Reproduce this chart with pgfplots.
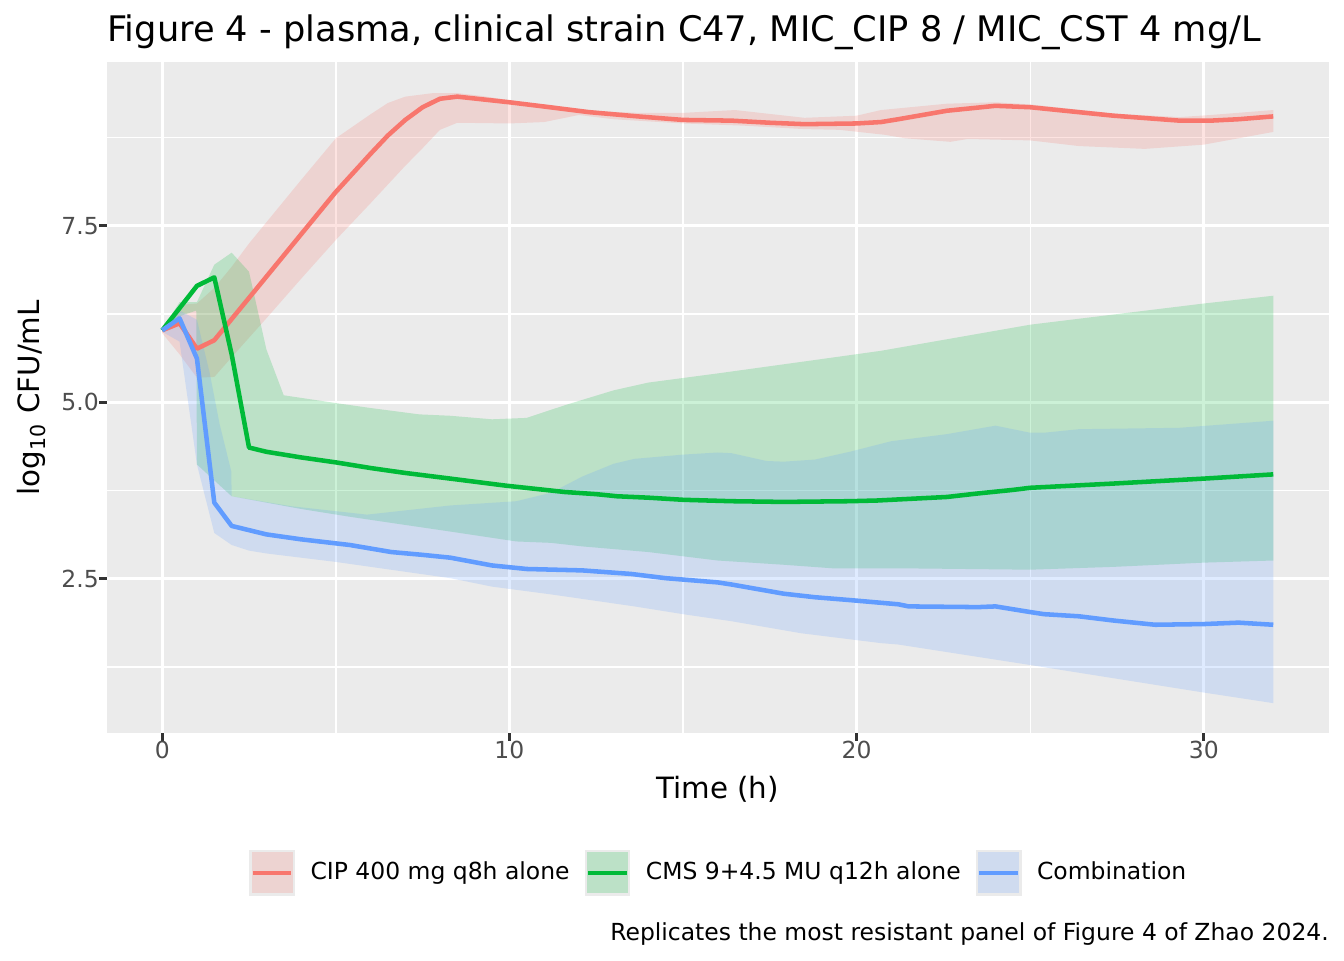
\documentclass[border=0pt]{standalone}
\usepackage{fontspec}
\setmainfont{DejaVu Sans}
\usepackage{pgfplots}
\pgfplotsset{compat=1.18}
\usepackage{pgfplotstable}
\usepgfplotslibrary{fillbetween}

\definecolor{cipc}{HTML}{F8766D}
\definecolor{cmsc}{HTML}{00BA38}
\definecolor{comc}{HTML}{619CFF}
\definecolor{ggbg}{HTML}{EBEBEB}
\definecolor{gg30}{HTML}{4D4D4D}
\definecolor{gg20}{HTML}{333333}

% CIP 400 mg q8h alone
\pgfplotstableread{
t y
0 6.02
0.5 6.12
1.0 5.76
1.5 5.88
2.0 6.18
2.5 6.48
3.0 6.78
4.0 7.38
5.0 7.98
6.0 8.52
6.5 8.78
7.0 9.00
7.5 9.18
8.0 9.30
8.5 9.33
10.0 9.25
11.0 9.19
12.3 9.11
13.7 9.05
15.0 9.00
16.4 8.99
17.5 8.96
18.5 8.94
20.0 8.95
20.7 8.97
21.2 9.01
22.6 9.13
24.0 9.20
25.0 9.18
27.4 9.06
29.3 8.99
30.2 8.99
31.0 9.01
32.0 9.05
}\cipline
\pgfplotstableread{
t y
0 6.05
0.5 6.38
1.0 6.40
1.5 6.62
2.0 6.92
2.5 7.25
3.0 7.55
4.0 8.15
5.0 8.74
6.0 9.08
6.5 9.24
7.0 9.33
7.8 9.38
8.5 9.38
9.2 9.34
10.0 9.28
11.0 9.20
12.3 9.13
13.7 9.10
15.0 9.10
16.5 9.14
18.5 9.03
20.0 9.06
20.7 9.14
22.6 9.23
24.0 9.25
25.0 9.22
27.4 9.09
29.3 9.04
30.2 9.07
32.0 9.14
}\cipup
\pgfplotstableread{
t y
0 5.98
0.5 5.68
1.0 5.35
1.5 5.36
2.0 5.64
3.0 6.19
4.0 6.75
5.0 7.30
6.0 7.82
7.0 8.35
7.5 8.60
8.0 8.86
8.5 8.96
10.0 8.95
11.0 8.97
12.0 9.07
13.0 9.01
15.0 8.95
16.7 8.92
18.5 8.87
19.5 8.86
20.8 8.79
21.4 8.74
22.7 8.69
23.2 8.73
25.0 8.71
26.4 8.63
28.3 8.59
30.0 8.65
32.0 8.83
}\ciplo

% CMS 9+4.5 MU q12h alone
\pgfplotstableread{
t y
0 6.02
1.0 6.65
1.5 6.77
2.0 5.68
2.5 4.36
3.0 4.30
4.0 4.22
5.0 4.15
6.0 4.07
7.0 4.00
8.3 3.92
9.9 3.82
11.6 3.73
12.5 3.70
13.1 3.67
14.0 3.65
15.0 3.62
16.4 3.60
17.9 3.59
19.8 3.60
20.6 3.61
22.6 3.66
23.5 3.71
24.5 3.76
25.0 3.79
27.4 3.85
30.0 3.92
32.0 3.98
}\cmsline
\pgfplotstableread{
t y
0 6.03
0.5 6.42
1.0 6.42
1.5 6.95
2.0 7.12
2.5 6.85
3.0 5.75
3.5 5.10
5.0 4.99
6.0 4.92
7.4 4.83
8.3 4.81
9.5 4.76
10.5 4.78
11.6 4.96
13.0 5.17
14.0 5.28
16.0 5.41
18.8 5.60
20.7 5.73
25.0 6.10
30.0 6.40
32.0 6.51
}\cmsup
\pgfplotstableread{
t y
0 6.00
0.5 6.22
0.98 6.30
1.0 4.12
2.0 3.67
3.0 3.58
4.0 3.49
5.4 3.38
6.5 3.30
8.3 3.17
10.2 3.03
11.2 3.01
12.1 2.96
14.0 2.88
16.0 2.76
17.9 2.70
19.3 2.65
21.2 2.65
25.0 2.63
27.4 2.67
30.0 2.73
32.0 2.76
}\cmslo

% Combination
\pgfplotstableread{
t y
0 6.02
0.5 6.19
1.0 5.62
1.5 3.58
2.0 3.25
3.0 3.13
4.0 3.06
5.4 2.98
6.6 2.88
7.5 2.84
8.3 2.80
9.5 2.69
10.5 2.64
12.1 2.62
13.5 2.57
14.5 2.51
16.0 2.45
16.4 2.42
17.9 2.29
18.8 2.24
19.8 2.20
21.2 2.14
21.5 2.11
23.5 2.10
24.0 2.11
25.0 2.03
25.4 2.00
26.4 1.97
27.4 1.91
28.6 1.85
30.0 1.86
31.0 1.88
32.0 1.85
}\comline
\pgfplotstableread{
t y
0 6.02
0.5 6.30
1.0 6.17
1.37 5.41
1.65 4.70
1.99 4.02
2.0 3.67
3.7 3.53
5.9 3.41
8.3 3.54
10.2 3.60
11.2 3.72
12.1 3.95
13.0 4.13
13.6 4.20
15.0 4.26
16.0 4.29
16.4 4.28
17.4 4.17
17.9 4.16
18.8 4.19
19.8 4.30
21.0 4.45
22.6 4.55
24.0 4.67
25.0 4.57
25.4 4.57
26.4 4.62
29.3 4.64
32.0 4.74
}\comup
\pgfplotstableread{
t y
0 6.00
0.5 5.86
1.0 4.12
1.5 3.15
2.0 2.98
2.5 2.90
3.0 2.86
5.0 2.74
8.3 2.51
9.5 2.39
11.2 2.28
13.6 2.11
15.0 2.00
16.4 1.90
18.4 1.73
20.7 1.59
21.2 1.57
25.0 1.28
30.0 0.89
32.0 0.74
}\comlo

\newcommand{\fsA}{\fontsize{8.8pt}{10.5pt}\selectfont}
\newcommand{\fsB}{\fontsize{11pt}{13.2pt}\selectfont}
\newcommand{\fsC}{\fontsize{13.2pt}{15.8pt}\selectfont}

\begin{document}
\begin{tikzpicture}
\path (0,0) rectangle (504pt,360pt);
\begin{axis}[
  at={(40.0pt,84.94pt)}, anchor=south west,
  scale only axis, width=458.3pt, height=251.8pt,
  xmin=-1.6, xmax=33.6, ymin=0.31, ymax=9.82,
  axis background/.style={fill=ggbg},
  axis line style={draw=none},
  xtick={0,10,20,30}, xticklabels={0,10,20,30},
  ytick={2.5,5,7.5}, yticklabels={2.5,5.0,7.5},
  minor xtick={5,15,25}, minor ytick={1.25,3.75,6.25,8.75},
  grid=both,
  major grid style={white, line width=1.07pt},
  minor grid style={white, line width=0.53pt},
  tick align=outside, xtick pos=bottom, ytick pos=left,
  major tick length=2.75pt, minor tick length=0pt,
  tick style={gg20, line width=1.07pt},
  xticklabel style={font=\fsA, text=gg30, inner sep=0pt, anchor=north},
  yticklabel style={font=\fsA, text=gg30, inner sep=0pt, anchor=east},
  /pgf/number format/assume math mode=true,
  legend style={at={(0.5,-0.2077)}, anchor=center, draw=none, fill=none,
    inner sep=0pt, font=\fsA, nodes={inner sep=0pt},
    /tikz/every odd column/.append style={column sep=5.8pt},
    /tikz/every even column/.append style={column sep=5.6pt}},
  legend columns=3, legend cell align=left,
]
% ribbons
\addplot[draw=none, name path=cipU, forget plot] table[x=t,y=y] {\cipup};
\addplot[draw=none, name path=cipL, forget plot] table[x=t,y=y] {\ciplo};
\addplot[fill=cipc, fill opacity=0.2, draw=none, forget plot] fill between[of=cipU and cipL];
\addplot[draw=none, name path=cmsU, forget plot] table[x=t,y=y] {\cmsup};
\addplot[draw=none, name path=cmsL, forget plot] table[x=t,y=y] {\cmslo};
\addplot[fill=cmsc, fill opacity=0.2, draw=none, forget plot] fill between[of=cmsU and cmsL];
\addplot[draw=none, name path=comU, forget plot] table[x=t,y=y] {\comup};
\addplot[draw=none, name path=comL, forget plot] table[x=t,y=y] {\comlo};
\addplot[fill=comc, fill opacity=0.2, draw=none, forget plot] fill between[of=comU and comL];
% lines
\addplot[cipc, line width=1.7pt, line join=round,
  legend image code/.code={
    \fill[ggbg, draw=none] (0pt,-8.6pt) rectangle (17.2pt,8.6pt);
    \fill[cipc, fill opacity=0.2, draw=none] (0.9pt,-7.7pt) rectangle (16.3pt,7.7pt);
    \draw[cipc, line width=1.7pt] (1.4pt,0pt) -- (15.8pt,0pt);}]
  table[x=t,y=y] {\cipline};
\addlegendentry{CIP 400 mg q8h alone}
\addplot[cmsc, line width=1.7pt, line join=round,
  legend image code/.code={
    \fill[ggbg, draw=none] (0pt,-8.6pt) rectangle (17.2pt,8.6pt);
    \fill[cmsc, fill opacity=0.2, draw=none] (0.9pt,-7.7pt) rectangle (16.3pt,7.7pt);
    \draw[cmsc, line width=1.7pt] (1.4pt,0pt) -- (15.8pt,0pt);}]
  table[x=t,y=y] {\cmsline};
\addlegendentry{CMS 9+4.5 MU q12h alone}
\addplot[comc, line width=1.7pt, line join=round,
  legend image code/.code={
    \fill[ggbg, draw=none] (0pt,-8.6pt) rectangle (17.2pt,8.6pt);
    \fill[comc, fill opacity=0.2, draw=none] (0.9pt,-7.7pt) rectangle (16.3pt,7.7pt);
    \draw[comc, line width=1.7pt] (1.4pt,0pt) -- (15.8pt,0pt);}]
  table[x=t,y=y] {\comline};
\addlegendentry{Combination}
\end{axis}
\node[anchor=base west, font=\fsC, inner sep=0pt] at (40.0pt,344.4pt)
  {Figure 4 - plasma, clinical strain C47, MIC\_CIP 8 / MIC\_CST 4 mg/L};
\node[anchor=base, font=\fsB, inner sep=0pt] at (269.15pt,60.5pt) {Time (h)};
\node[anchor=base, rotate=90, font=\fsB, inner sep=0pt] at (15.0pt,210.85pt)
  {log\textsubscript{10} CFU/mL};
\node[anchor=base east, font=\fsA, inner sep=0pt] at (498.5pt,7.5pt)
  {Replicates the most resistant panel of Figure 4 of Zhao 2024.};
\end{tikzpicture}
\end{document}
